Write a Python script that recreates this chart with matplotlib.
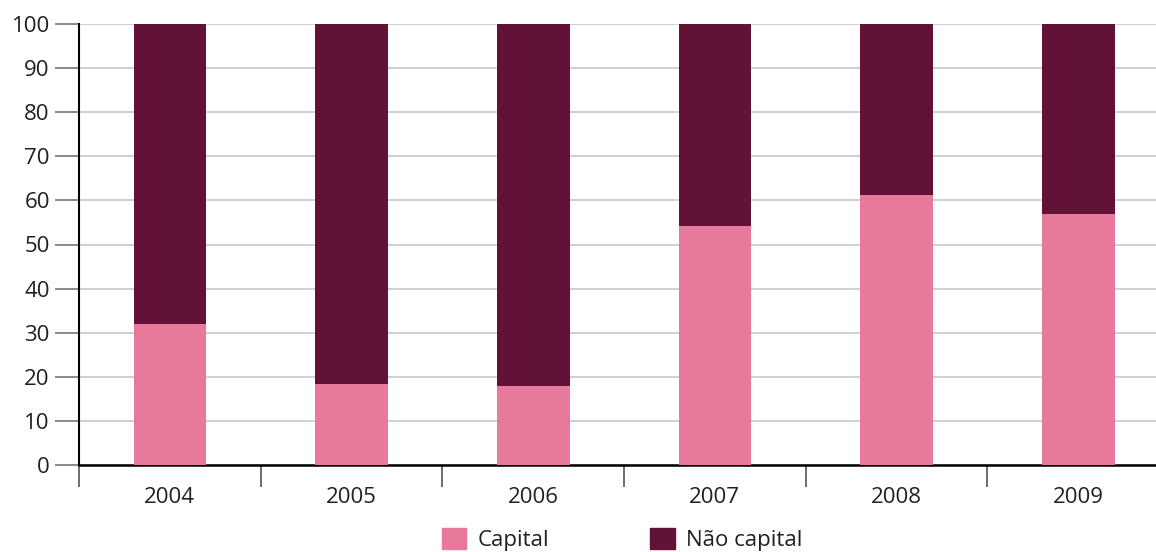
import matplotlib.pyplot as plt
import numpy as np
from matplotlib.patches import Patch

anos = ['2004', '2005', '2006', '2007', '2008', '2009']
capital = [32.0, 18.4, 17.9, 54.3, 61.2, 56.9]
nao_capital = [100 - v for v in capital]

cor_capital = '#e77a9a'
cor_nao = '#621237'
cor_texto = '#231f20'

plt.rcParams['font.family'] = ['Open Sans', 'DejaVu Sans']

fig = plt.figure(figsize=(11.56, 5.52), dpi=100)
ax = fig.add_axes([79 / 1156, 1 - 465 / 552, 1090 / 1156, 441 / 552])

x = np.arange(len(anos))
ax.bar(x, capital, width=0.4, color=cor_capital, zorder=3)
ax.bar(x, nao_capital, width=0.4, bottom=capital, color=cor_nao, zorder=3)

ax.set_xlim(-0.5, len(anos) - 0.5)
ax.set_ylim(0, 100)
ax.set_yticks(range(0, 101, 10))
ax.yaxis.grid(True, color='#c8c8cc', linewidth=1.2, zorder=0)

# ticks do eixo x nas fronteiras entre categorias, rótulos no centro
ax.set_xticks(np.arange(-0.5, len(anos) - 0.5, 1))
ax.set_xticklabels([])
ax.set_xticks(x, minor=True)
ax.set_xticklabels(anos, minor=True)
ax.tick_params(axis='x', which='major', length=16, width=1.2, color='#555555', direction='out')
ax.tick_params(axis='x', which='minor', length=0, pad=16, labelsize=16, labelcolor=cor_texto)
ax.tick_params(axis='y', length=17, width=1.2, color='#777777', labelsize=16, labelcolor=cor_texto, pad=4)

for s in ['top', 'right']:
    ax.spines[s].set_visible(False)
ax.spines['left'].set_linewidth(1.5)
ax.spines['bottom'].set_linewidth(1.8)

handles = [Patch(color=cor_capital, label='Capital'), Patch(color=cor_nao, label='Não capital')]
fig.legend(handles=handles, loc='upper left', bbox_to_anchor=(422 / 1156, 1 - 508 / 552),
           ncol=2, frameon=False, fontsize=16, handlelength=1.1, handleheight=1.1,
           handletextpad=0.5, columnspacing=4.55, labelcolor=cor_texto)

fig.savefig('out.png', dpi=100)
